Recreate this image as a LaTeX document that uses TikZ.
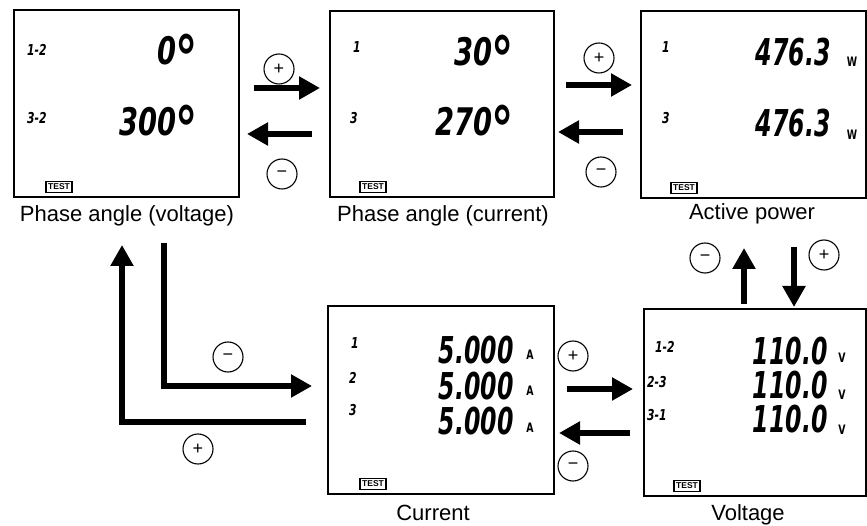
\documentclass[tikz,border=0pt]{standalone}
\usepackage{fontspec}
\setmainfont{Liberation Sans}
\newfontfamily\lcd{DejaVu Sans}[FakeStretch=0.72]
\newfontfamily\lcdn{DejaVu Sans}[FakeStretch=0.64]
\newcommand{\dg}{\hspace{-1pt}\raisebox{-16pt}{\fontsize{62}{62}\selectfont °}}
\usetikzlibrary{arrows.meta}
\begin{document}
\begin{tikzpicture}[x=1pt,y=-1pt,
  lcdbox/.style={draw, line width=2.2pt, rectangle, inner sep=0pt},
  captxt/.style={font=\fontsize{22}{22}\selectfont, inner sep=0pt},
  big/.style={font=\lcd\bfseries\itshape\fontsize{38}{38}\selectfont, anchor=east, inner sep=0pt, text height=28pt, text depth=0pt},
  bign/.style={big, font=\lcdn\bfseries\itshape\fontsize{37}{37}\selectfont},
  lab/.style={font=\lcd\bfseries\itshape\fontsize{15}{15}\selectfont, anchor=west, inner sep=0pt, text height=11pt, text depth=0pt},
  unit/.style={font=\lcd\bfseries\fontsize{13}{13}\selectfont, inner sep=0pt, text height=9.5pt, text depth=0pt},
  testbox/.style={draw, line width=1.1pt, inner sep=1pt, minimum width=26pt, minimum height=11pt, font=\bfseries\fontsize{8.5}{8.5}\selectfont},
  sgn/.style={draw, circle, line width=1.1pt, minimum size=30pt, inner sep=0pt, font=\fontsize{18}{18}\selectfont},
  bar/.style={line width=6.5pt, line join=miter, -{Triangle[length=21pt,width=22pt]}},
]
\useasboundingbox (0,0) rectangle (867,526);
% boxes
\node[lcdbox, minimum width=225pt, minimum height=187pt] (pv) at (126.5,103.5) {};
\node[lcdbox, minimum width=224pt, minimum height=186pt] (pc) at (442,104) {};
\node[lcdbox, minimum width=225pt, minimum height=187pt] (ap) at (753.5,104.5) {};
\node[lcdbox, minimum width=226pt, minimum height=188pt] (cu) at (441,400) {};
\node[lcdbox, minimum width=222pt, minimum height=187pt] (vo) at (755,402.5) {};
% captions
\node[captxt] (tpv) at (127,216) {Phase angle (voltage)};
\node[captxt] (tpc) at (443,216) {Phase angle (current)};
\node[captxt] (tap) at (752,214) {Active power};
\node[captxt] (tcu) at (433,513) {Current};
\node[captxt] (tvo) at (748,515) {Voltage};
% box 1
\node[lab] (l11) at (27,50) {1-2};
\node[big] (v11) at (198,51) {0\dg};
\node[lab] (l12) at (27,118) {3-2};
\node[big] (v12) at (198,122) {300\dg};
\node[testbox] (t1) at (59,187) {TEST};
% box 2
\node[lab] (l21) at (353,47) {1};
\node[big] (v21) at (514,52) {30\dg};
\node[lab] (l22) at (350,118) {3};
\node[big] (v22) at (514,122) {270\dg};
\node[testbox] (t2) at (373,187) {TEST};
% box 3
\node[lab] (l31) at (662,47) {1};
\node[bign] (v31) at (831,52) {476.3};
\node[unit] (u31) at (852,62) {W};
\node[lab] (l32) at (662,118) {3};
\node[bign] (v32) at (831,123) {476.3};
\node[unit] (u32) at (852,135) {W};
\node[testbox] (t3) at (684,188) {TEST};
% box 4
\node[lab] (l41) at (351,343) {1};
\node[lab] (l42) at (349,378) {2};
\node[lab] (l43) at (349,410) {3};
\node[bign] (v41) at (514,349) {5.000};
\node[bign] (v42) at (514,385) {5.000};
\node[bign] (v43) at (514,420) {5.000};
\node[unit] (u41) at (530,355) {A};
\node[unit] (u42) at (530,391) {A};
\node[unit] (u43) at (530,428) {A};
\node[testbox] (t4) at (373,484) {TEST};
% box 5
\node[lab] (l51) at (655,347) {1-2};
\node[lab] (l52) at (647,382) {2-3};
\node[lab] (l53) at (647,415) {3-1};
\node[bign] (v51) at (828,350) {110.0};
\node[bign] (v52) at (828,384) {110.0};
\node[bign] (v53) at (828,418) {110.0};
\node[unit] (u51) at (842,358) {V};
\node[unit] (u52) at (842,395) {V};
\node[unit] (u53) at (842,430) {V};
\node[testbox] (t5) at (687,486) {TEST};
% sign circles
\node[sgn] (c1p) at (279,69) {+};
\node[sgn] (c1m) at (282,174) {−};
\node[sgn] (c2p) at (599,58) {+};
\node[sgn] (c2m) at (601,172) {−};
\node[sgn] (c3m) at (705,258) {−};
\node[sgn] (c3p) at (824,255) {+};
\node[sgn] (c4p) at (573,356) {+};
\node[sgn] (c4m) at (573,466) {−};
\node[sgn] (c5m) at (228,357) {−};
\node[sgn] (c5p) at (198,449) {+};
% arrow end points
\coordinate (a1s) at (254,88);  \coordinate (a1e) at (320,88);
\coordinate (b1s) at (312,134); \coordinate (b1e) at (247,134);
\coordinate (a2s) at (566,85);  \coordinate (a2e) at (632,85);
\coordinate (b2s) at (623,132); \coordinate (b2e) at (558,132);
\coordinate (a3s) at (744,304); \coordinate (a3e) at (744,248);
\coordinate (b3s) at (794,247); \coordinate (b3e) at (794,307);
\coordinate (a4s) at (567,389); \coordinate (a4e) at (633,389);
\coordinate (b4s) at (630,433); \coordinate (b4e) at (559,433);
\coordinate (o1s) at (306,422); \coordinate (o1e) at (122,245);
\coordinate (i1s) at (164,243); \coordinate (i1e) at (312,386);
% arrows
\draw[bar] (a1s) -- (a1e);
\draw[bar] (b1s) -- (b1e);
\draw[bar] (a2s) -- (a2e);
\draw[bar] (b2s) -- (b2e);
\draw[bar] (a3s) -- (a3e);
\draw[bar] (b3s) -- (b3e);
\draw[bar] (a4s) -- (a4e);
\draw[bar] (b4s) -- (b4e);
\draw[bar] (o1s) -| (o1e);
\draw[bar] (i1s) |- (i1e);
\end{tikzpicture}
\end{document}
